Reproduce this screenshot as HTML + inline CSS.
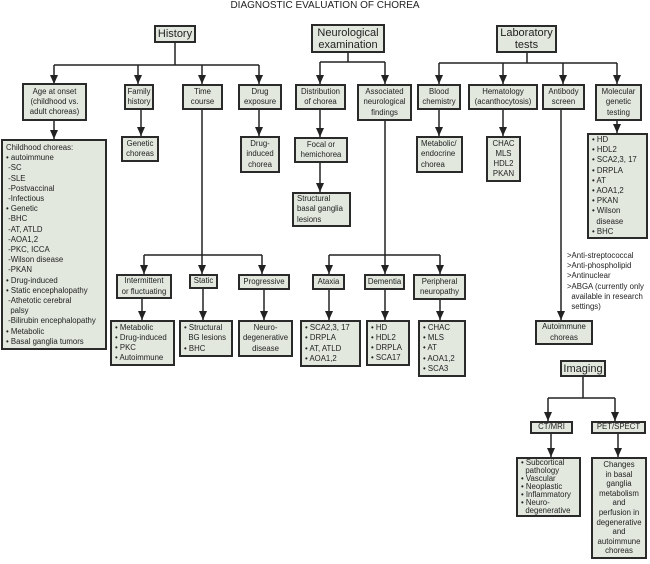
<!DOCTYPE html>
<html><head><meta charset="utf-8"><style>
body{margin:0;width:650px;height:564px;background:#fff;position:relative;overflow:hidden;font-family:"Liberation Sans",sans-serif;color:#222}
.b{position:absolute;box-sizing:border-box;border:2px solid #2a2a2a;background:#e2e8de;font-size:7.8px;line-height:10.2px;text-align:center;display:flex;flex-direction:column;justify-content:center;padding:0 1px;white-space:nowrap;overflow:visible}
.l{text-align:left;justify-content:flex-start;padding:2px 3px}
.h{font-size:11px;line-height:12px}
.t{position:absolute;font-size:7.8px;line-height:10.2px;white-space:nowrap}
svg{position:absolute;left:0;top:0}
</style></head><body>
<div class="t" style="left:0;width:650px;text-align:center;top:1px;font-size:10px">DIAGNOSTIC EVALUATION OF CHOREA</div>
<svg width="650" height="564">
<defs><marker id="a" markerWidth="9" markerHeight="8" refX="9" refY="4" orient="auto" markerUnits="userSpaceOnUse"><path d="M0,0 L9,4 L0,8z" fill="#222"/></marker></defs>
<g stroke="#222" stroke-width="1.5" fill="none">
<path d="M175,42V65M54,65H259M348,53V62M320,62H385M527,53V63M439,63H617M202,110V255M144,255H262M385,121V255M329,255H440M583,376V398M548,398H615"/>
<g marker-end="url(#a)">
<path d="M54,65V84"/><path d="M138,65V84"/><path d="M202,65V84"/><path d="M259,65V84"/><path d="M320,62V84"/><path d="M385,62V84"/><path d="M439,63V84"/><path d="M503,63V84"/><path d="M563,63V84"/><path d="M617,63V84"/>
<path d="M54,121V139"/><path d="M141,110V136"/><path d="M259,110V136"/><path d="M320,110V137"/><path d="M320,163V192"/><path d="M439,110V136"/><path d="M503,110V136"/><path d="M617,121V133"/><path d="M561,110V320"/>
<path d="M144,255V274"/><path d="M202,255V274"/><path d="M262,255V274"/><path d="M329,255V274"/><path d="M385,255V274"/><path d="M440,255V274"/>
<path d="M142,299V320"/><path d="M203,289V320"/><path d="M264,290V320"/><path d="M329,290V320"/><path d="M385,290V320"/><path d="M440,300V320"/>
<path d="M548,398V421"/><path d="M615,398V421"/><path d="M551,433V457"/><path d="M618,433V457"/>
</g></g></svg>
<div class="b h" style="left:154px;top:25px;width:42px;height:18px">History</div>
<div class="b h" style="left:311px;top:24px;width:74px;height:29px">Neurological<br>examination</div>
<div class="b h" style="left:496px;top:25px;width:61px;height:28px">Laboratory<br>tests</div>
<div class="b" style="left:22px;top:83px;width:65px;height:38px">Age at onset<br>(childhood vs.<br>adult choreas)</div>
<div class="b" style="left:124px;top:84px;width:30px;height:26px">Family<br>history</div>
<div class="b" style="left:182px;top:84px;width:41px;height:26px">Time<br>course</div>
<div class="b" style="left:238px;top:84px;width:44px;height:26px">Drug<br>exposure</div>
<div class="b" style="left:295px;top:84px;width:51px;height:26px">Distribution<br>of chorea</div>
<div class="b" style="left:357px;top:84px;width:55px;height:37px">Associated<br>neurological<br>findings</div>
<div class="b" style="left:417px;top:84px;width:44px;height:26px">Blood<br>chemistry</div>
<div class="b" style="left:468px;top:84px;width:70px;height:26px">Hematology<br>(acanthocytosis)</div>
<div class="b" style="left:542px;top:84px;width:43px;height:26px">Antibody<br>screen</div>
<div class="b" style="left:595px;top:84px;width:47px;height:37px">Molecular<br>genetic<br>testing</div>
<div class="b l" style="left:1px;top:139px;width:106px;height:211px">Childhood choreas:<br>• autoimmune<br>&nbsp;-SC<br>&nbsp;-SLE<br>&nbsp;-Postvaccinal<br>&nbsp;-Infectious<br>• Genetic<br>&nbsp;-BHC<br>&nbsp;-AT, ATLD<br>&nbsp;-AOA1,2<br>&nbsp;-PKC, ICCA<br>&nbsp;-Wilson disease<br>&nbsp;-PKAN<br>• Drug-induced<br>• Static encephalopathy<br>&nbsp;-Athetotic cerebral<br>&nbsp;&nbsp;palsy<br>&nbsp;-Bilirubin encephalopathy<br>• Metabolic<br>• Basal ganglia tumors</div>
<div class="b" style="left:121px;top:136px;width:38px;height:26px">Genetic<br>choreas</div>
<div class="b" style="left:240px;top:136px;width:40px;height:37px">Drug-<br>induced<br>chorea</div>
<div class="b" style="left:294px;top:137px;width:54px;height:26px">Focal or<br>hemichorea</div>
<div class="b l" style="left:292px;top:192px;width:59px;height:35px;justify-content:center">Structural<br>basal ganglia<br>lesions</div>
<div class="b l" style="left:416px;top:136px;width:47px;height:37px;justify-content:center">Metabolic/<br>endocrine<br>chorea</div>
<div class="b" style="left:486px;top:136px;width:35px;height:46px">CHAC<br>MLS<br>HDL2<br>PKAN</div>
<div class="b l" style="left:587px;top:133px;width:61px;height:106px;justify-content:center">• HD<br>• HDL2<br>• SCA2,3, 17<br>• DRPLA<br>• AT<br>• AOA1,2<br>• PKAN<br>• Wilson<br>&nbsp;&nbsp;disease<br>• BHC</div>
<div class="t" style="left:567px;top:251px">&gt;Anti-streptococcal<br>&gt;Anti-phospholipid<br>&gt;Antinuclear<br>&gt;ABGA (currently only<br>&nbsp;&nbsp;available in research<br>&nbsp;&nbsp;settings)</div>
<div class="b" style="left:535px;top:320px;width:58px;height:25px">Autoimmune<br>choreas</div>
<div class="b" style="left:116px;top:274px;width:56px;height:25px">Intermittent<br>or fluctuating</div>
<div class="b" style="left:189px;top:274px;width:29px;height:15px">Static</div>
<div class="b" style="left:238px;top:274px;width:52px;height:16px">Progressive</div>
<div class="b" style="left:312px;top:274px;width:33px;height:16px">Ataxia</div>
<div class="b" style="left:364px;top:274px;width:41px;height:16px">Dementia</div>
<div class="b" style="left:413px;top:274px;width:53px;height:26px">Peripheral<br>neuropathy</div>
<div class="b l" style="left:110px;top:320px;width:65px;height:46px;justify-content:center">• Metabolic<br>• Drug-induced<br>• PKC<br>• Autoimmune</div>
<div class="b l" style="left:179px;top:320px;width:54px;height:37px;justify-content:center">• Structural<br>&nbsp;&nbsp;BG lesions<br>• BHC</div>
<div class="b" style="left:238px;top:320px;width:55px;height:37px">Neuro-<br>degenerative<br>disease</div>
<div class="b l" style="left:300px;top:320px;width:61px;height:47px;justify-content:center">• SCA2,3, 17<br>• DRPLA<br>• AT, ATLD<br>• AOA1,2</div>
<div class="b l" style="left:366px;top:320px;width:44px;height:46px;justify-content:center">• HD<br>• HDL2<br>• DRPLA<br>• SCA17</div>
<div class="b l" style="left:418px;top:320px;width:48px;height:57px;justify-content:center">• CHAC<br>• MLS<br>• AT<br>• AOA1,2<br>• SCA3</div>
<div class="b h" style="left:560px;top:360px;width:46px;height:17px">Imaging</div>
<div class="b" style="left:530px;top:421px;width:43px;height:13px">CT/MRI</div>
<div class="b" style="left:591px;top:421px;width:55px;height:13px">PET/SPECT</div>
<div class="b l" style="left:516px;top:457px;width:65px;height:60px;justify-content:center;line-height:8.1px;padding:1px 3px">• Subcortical<br>&nbsp;&nbsp;pathology<br>• Vascular<br>• Neoplastic<br>• Inflammatory<br>• Neuro-<br>&nbsp;&nbsp;degenerative</div>
<div class="b" style="left:591px;top:457px;width:56px;height:102px;line-height:9.6px">Changes<br>in basal<br>ganglia<br>metabolism<br>and<br>perfusion in<br>degenerative<br>and<br>autoimmune<br>choreas</div>
</body></html>
